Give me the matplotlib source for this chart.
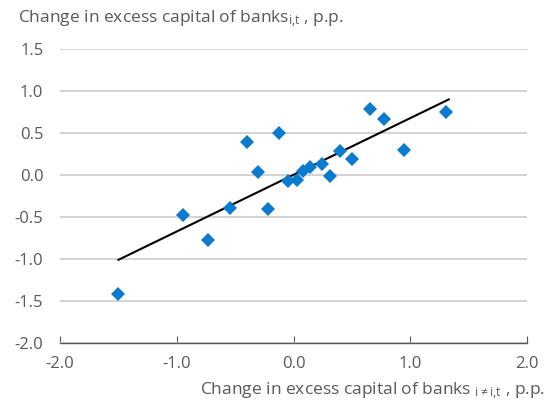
import numpy as np
import matplotlib
matplotlib.use("Agg")
import matplotlib.pyplot as plt

# scatter data
x_vals = [-1.50, -0.95, -0.73, -0.40, -0.30, -0.54, -0.22, -0.12, -0.05, 0.03,
          0.08, 0.14, 0.24, 0.31, 0.40, 0.50, 0.655, 0.775, 0.95, 1.31]
y_vals = [-1.42, -0.48, -0.77, 0.39, 0.035, -0.39, -0.40, 0.50, -0.07, -0.06,
          0.05, 0.09, 0.13, -0.01, 0.28, 0.19, 0.78, 0.67, 0.30, 0.755]

# fitted line endpoints
fit_x = [-1.50, 1.33]
fit_y = [-1.01, 0.90]

x_ticks = [-2.0, -1.0, 0.0, 1.0, 2.0]
y_ticks = [-2.0, -1.5, -1.0, -0.5, 0.0, 0.5, 1.0, 1.5]

grey = '#595959'
blue = '#0B7BCF'

plt.rcParams['font.family'] = ['Open Sans', 'DejaVu Sans']
plt.rcParams['mathtext.default'] = 'regular'

fig = plt.figure(figsize=(5.5, 4.01), dpi=100)
ax = fig.add_axes([60/550, 1 - 343/401, 467/550, 294/401])

ax.set_xlim(-2, 2)
ax.set_ylim(-2, 1.5)
ax.set_xticks(x_ticks)
ax.set_yticks(y_ticks)
ax.set_xticklabels(['%.1f' % v for v in x_ticks])
ax.set_yticklabels(['%.1f' % v for v in y_ticks])

ax.grid(axis='y', color='#d0d0d0', linewidth=1.3)
ax.set_axisbelow(True)
for s in ['top', 'right', 'left']:
    ax.spines[s].set_visible(False)
ax.spines['bottom'].set_color(grey)
ax.spines['bottom'].set_linewidth(1.0)

ax.tick_params(axis='x', direction='in', length=5, color=grey, labelcolor=grey,
               labelsize=12, pad=9)
ax.tick_params(axis='y', length=0, labelcolor=grey, labelsize=12, pad=12)

ax.plot(fit_x, fit_y, color='black', linewidth=1.5, zorder=3)
ax.plot(x_vals, y_vals, linestyle='none', marker='D', markersize=6.8,
        color=blue, markeredgewidth=0, zorder=4)

fig.text(18/550, 1 - 19/401, r'Change in excess capital of banks$_{i{,}t}$ , p.p.',
         color=grey, fontsize=12.5, va='center', ha='left')
fig.text(545/550, 1 - 391/401, r'Change in excess capital of banks $_{i{\neq}i{,}t}$ , p.p.',
         color=grey, fontsize=12.5, va='center', ha='right')

fig.savefig('out.png', dpi=100)
